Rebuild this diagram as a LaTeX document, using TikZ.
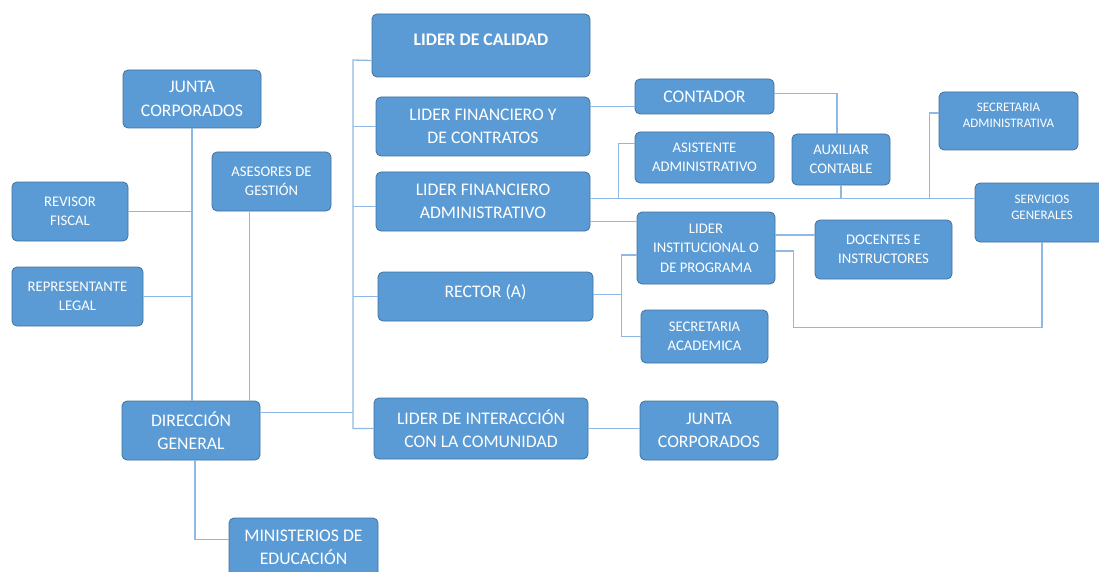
\documentclass[tikz,border=0pt]{standalone}
\usepackage{fontspec}
\setmainfont{Carlito}
\definecolor{boxblue}{HTML}{5B9BD5}
\definecolor{boxline}{HTML}{41719C}
\definecolor{linkblue}{HTML}{8DB9E2}

\begin{document}
\begin{tikzpicture}[
    x=1pt, y=-1pt,
    box/.style={rectangle, rounded corners=5pt, fill=boxblue, draw=boxline, line width=0.8pt, text=white, align=center, inner sep=2pt},
    big/.style={box, font=\fontsize{17.7}{23.5}\selectfont},
    bigbold/.style={box, font=\fontsize{17.7}{23.5}\selectfont\bfseries},
    small/.style={box, font=\fontsize{14.7}{19.5}\selectfont},
    tiny/.style={box, font=\fontsize{13}{16}\selectfont},
    dims/.style 2 args={minimum width=#1pt, minimum height=#2pt},
    link/.style={draw=linkblue, line width=1.3pt},
    ]

    \useasboundingbox (0,0) rectangle (1099,572);
    \clip (0,0) rectangle (1099,572);

    \node (jc1) [big, dims={138}{58}] at (192,99) {JUNTA\\CORPORADOS};
    \node (asesores) [small, dims={119}{59}] at (271.5,181.5) {ASESORES DE\\GESTIÓN};
    \node (revisor) [small, dims={116}{59}] at (70,211.5) {REVISOR\\FISCAL};
    \node (repr) [small, dims={131}{59}] at (77.5,296.5) {REPRESENTANTE\\LEGAL};
    \node (dir) [big, dims={138}{59}] at (191,430.5) {DIRECCIÓN\\GENERAL};
    \node (minist) [big, dims={149}{59}] at (303.5,547.5) {MINISTERIOS DE\\EDUCACIÓN};

    \node (calidad) [bigbold, dims={218}{63}, text depth=11pt] at (481,45.5) {LIDER DE CALIDAD};
    \node (finy) [big, dims={214}{59}] at (483,126.5) {LIDER FINANCIERO Y\\DE CONTRATOS};
    \node (finadm) [big, dims={214}{59}] at (483,201.5) {LIDER FINANCIERO\\ADMINISTRATIVO};
    \node (rector) [big, dims={215}{49}, text depth=10pt] at (485.5,296.5) {RECTOR (A)};
    \node (interac) [big, dims={214}{61}] at (481,428.5) {LIDER DE INTERACCIÓN\\CON LA COMUNIDAD};
    \node (junta2) [big, dims={138}{59}] at (709,430.5) {JUNTA\\CORPORADOS};

    \node (contador) [big, dims={139}{35}] at (704.5,96.5) {CONTADOR};
    \node (asist) [small, dims={139}{51}] at (704.5,157.5) {ASISTENTE\\ADMINISTRATIVO};
    \node (auxil) [small, dims={98}{51}] at (841,159.5) {AUXILIAR\\CONTABLE};
    \node (secadm) [tiny, dims={139}{58}, text depth=12pt] at (1008.5,121) {SECRETARIA\\ADMINISTRATIVA};
    \node (servicios) [tiny, dims={134}{59}, text depth=10pt] at (1042,212.5) {SERVICIOS\\GENERALES};
    \node (liderinst) [small, dims={138}{72}] at (706,248) {LIDER\\INSTITUCIONAL O\\DE PROGRAMA};
    \node (docentes) [small, dims={137}{59}] at (883.5,249.5) {DOCENTES E\\INSTRUCTORES};
    \node (secacad) [small, dims={127}{53}] at (704.5,336.5) {SECRETARIA\\ACADEMICA};

    \coordinate (trunk) at (353,60);
    \coordinate (admbus) at ([yshift=3pt]finadm.east);
    \coordinate (rectbus) at ([xshift=-15pt]liderinst.west);

    % left side
    \draw[link] (jc1.south) -- (jc1.south |- dir.north);
    \draw[link] (revisor.east) -- (revisor.east -| jc1.south);
    \draw[link] (repr.east) -- (repr.east -| jc1.south);
    \draw[link] ([xshift=-22pt]asesores.south) -- ([xshift=-22pt]asesores.south |- dir.north);
    \draw[link] ([xshift=4pt]dir.south) |- ([yshift=8pt]minist.west);

    % leaders
    \draw[link] ([yshift=-15pt]calidad.west) -- (trunk) |- (interac.west);
    \draw[link] (finy.west) -- (finy.west -| trunk);
    \draw[link] ([yshift=-5pt]finadm.west) -- ([yshift=-5pt]finadm.west -| trunk);
    \draw[link] (rector.west) -- (rector.west -| trunk);
    \draw[link] ([yshift=18pt]dir.east) -- ([yshift=18pt]dir.east -| trunk);
    \draw[link] (interac.east) -- (interac.east -| junta2.west);

    % right side
    \draw[link] ([yshift=20pt]finy.east) -- ([yshift=20pt]finy.east -| contador.west);
    \draw[link] ([yshift=3pt]contador.east) -| ([xshift=-4pt]auxil.north);
    \draw[link] (admbus) -- (admbus -| servicios.west);
    \draw[link] (auxil.south) -- (auxil.south |- admbus);
    \draw[link] ([yshift=14pt]asist.west) -| ([xshift=28pt]admbus);
    \draw[link] ([yshift=8pt]secadm.west) -| ([xshift=-9pt]secadm.west |- admbus);
    \draw[link] ([yshift=-20pt]finadm.east) -- ([yshift=-20pt]finadm.east -| liderinst.west);
    \draw[link] ([yshift=2pt]rector.east) -- ([yshift=2pt]rector.east -| rectbus);
    \draw[link] ([yshift=-7pt]liderinst.west) -| (rectbus |- secacad.west) -- (secacad.west);
    \draw[link] ([yshift=13pt]liderinst.east) -- ([yshift=13pt]liderinst.east -| docentes.west);
    \draw[link] ([yshift=-3pt]liderinst.east) -- ++(18,0) |- ([yshift=-85pt]servicios.south) -- (servicios.south);
\end{tikzpicture}
\end{document}
